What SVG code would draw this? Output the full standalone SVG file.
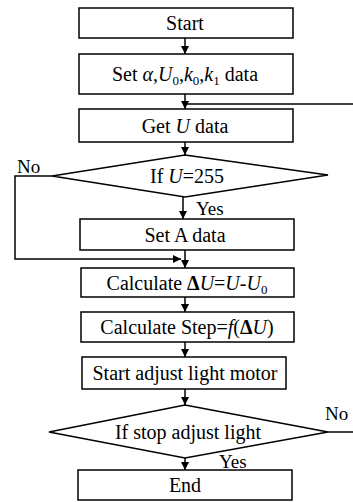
<svg xmlns="http://www.w3.org/2000/svg" width="353" height="502" viewBox="0 0 353 502">
<style>
.box{fill:#fff;stroke:#000;stroke-width:1.5}
.ln{fill:none;stroke:#000;stroke-width:1.5}
text{font-family:"Liberation Serif","Times New Roman",serif;font-size:20px;fill:#000}
.c{text-anchor:middle}
.i{font-style:italic}
.b{font-weight:bold}
.s{font-size:13px}
.lb{font-size:19px}
</style>
<defs>
<marker id="ah" viewBox="0 0 10 10" refX="10" refY="5" markerWidth="8" markerHeight="8" markerUnits="userSpaceOnUse" orient="auto">
<path d="M0,0 L10,5 L0,10 z" fill="#000"/>
</marker>
</defs>
<rect width="353" height="502" fill="#fff"/>
<g id="connectors">
<line class="ln" x1="185" y1="38" x2="185" y2="54" marker-end="url(#ah)"/>
<line class="ln" x1="185" y1="94" x2="185" y2="109" marker-end="url(#ah)"/>
<line class="ln" x1="353" y1="104" x2="185" y2="104"/>
<line class="ln" x1="185" y1="142" x2="185" y2="155" marker-end="url(#ah)"/>
<polyline class="ln" points="52,176 15,176 15,259 181,259" marker-end="url(#ah)"/>
<line class="ln" x1="183" y1="197" x2="183" y2="219" marker-end="url(#ah)"/>
<line class="ln" x1="185" y1="250" x2="185" y2="268" marker-end="url(#ah)"/>
<line class="ln" x1="185" y1="297" x2="185" y2="312" marker-end="url(#ah)"/>
<line class="ln" x1="185" y1="342" x2="185" y2="357" marker-end="url(#ah)"/>
<line class="ln" x1="185" y1="389" x2="185" y2="405" marker-end="url(#ah)"/>
<line class="ln" x1="328" y1="432" x2="353" y2="432"/>
<line class="ln" x1="185" y1="458" x2="185" y2="470" marker-end="url(#ah)"/>
<text class="lb" x="17" y="173">No</text>
<text class="lb" x="196" y="215">Yes</text>
<text class="lb" x="325" y="420">No</text>
<text class="lb" x="219" y="468">Yes</text>
</g>
<g id="start">
<rect class="box" x="79" y="8" width="214" height="30"/>
<text class="c" x="185" y="30">Start</text>
</g>
<g id="set-params">
<rect class="box" x="79" y="54" width="214" height="40"/>
<text class="c" x="185" y="81">Set <tspan class="i">α</tspan>,<tspan class="i">U</tspan><tspan class="s" dy="4">0</tspan><tspan dy="-4">,</tspan><tspan class="i">k</tspan><tspan class="s" dy="4">0</tspan><tspan dy="-4">,</tspan><tspan class="i">k</tspan><tspan class="s" dy="4">1</tspan><tspan dy="-4"> data</tspan></text>
</g>
<g id="get-u">
<rect class="box" x="79" y="109" width="214" height="33"/>
<text class="c" x="185" y="133">Get <tspan class="i">U</tspan> data</text>
</g>
<g id="if-u">
<polygon class="box" points="185,155 328,175 185,197 52,176"/>
<text class="c" x="187" y="183">If <tspan class="i">U</tspan>=255</text>
</g>
<g id="set-a">
<rect class="box" x="80" y="219" width="214" height="31"/>
<text class="c" x="185" y="242">Set A data</text>
</g>
<g id="calc-du">
<rect class="box" x="81" y="268" width="213" height="29"/>
<text class="c" x="187" y="290">Calculate <tspan class="b">Δ</tspan><tspan class="i">U</tspan>=<tspan class="i">U</tspan>-<tspan class="i">U</tspan><tspan class="s" dy="4">0</tspan></text>
</g>
<g id="calc-step">
<rect class="box" x="81" y="312" width="213" height="30"/>
<text class="c" x="187" y="334">Calculate Step=<tspan class="i">f</tspan>(<tspan class="b">Δ</tspan><tspan class="i">U</tspan>)</text>
</g>
<g id="start-motor">
<rect class="box" x="82" y="357" width="204" height="32"/>
<text class="c" x="185" y="380">Start adjust light motor</text>
</g>
<g id="if-stop">
<polygon class="box" points="185,405 328,432 185,458 49,432"/>
<text class="c" x="188" y="439">If stop adjust light</text>
</g>
<g id="end">
<rect class="box" x="78" y="470" width="214" height="30"/>
<text class="c" x="185" y="492">End</text>
</g>
</svg>
